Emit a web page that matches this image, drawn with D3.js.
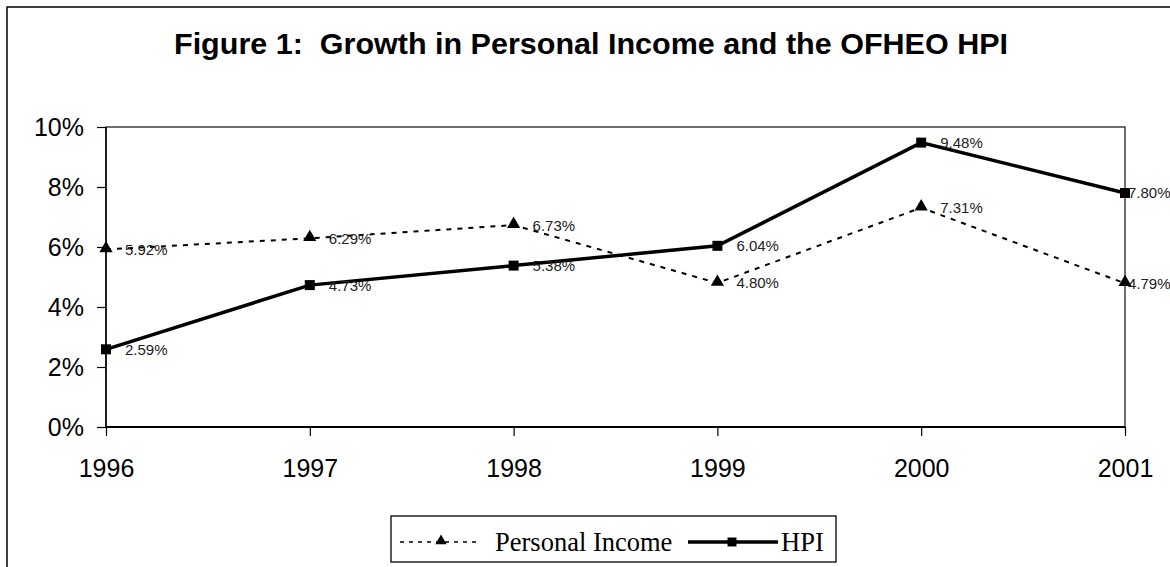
<!DOCTYPE html>
<html>
<head>
<meta charset="utf-8">
<script src="https://cdn.jsdelivr.net/npm/d3@7"></script>
<style>
  body { margin: 0; background: #fff; }
  svg { display: block; }
  .axis text { font-family: "Liberation Sans", Arial, sans-serif; font-size: 25px; fill: #000; }
  .axis line { stroke: #000; stroke-width: 1.2; }
  .lbl { font-family: "Liberation Sans", Arial, sans-serif; font-size: 15px; fill: #222; }
</style>
</head>
<body>
<div id="chart"></div>
<script>
// data
var years = ['1996', '1997', '1998', '1999', '2000', '2001'];
var personalIncome = [5.92, 6.29, 6.73, 4.80, 7.31, 4.79];
var hpi = [2.59, 4.73, 5.38, 6.04, 9.48, 7.80];
var yTicks = [0, 2, 4, 6, 8, 10];
var titleText = 'Figure 1:  Growth in Personal Income and the OFHEO HPI';

var W = 1170, H = 567;
var plot = {left: 106, top: 127, right: 1125, bottom: 427};

var svg = d3.select('#chart').append('svg')
    .attr('width', W)
    .attr('height', H);

// outer chart frame (runs off the right and bottom of the picture)
svg.append('rect')
    .attr('x', 7).attr('y', 7)
    .attr('width', W + 20).attr('height', H + 20)
    .style('fill', 'none')
    .style('stroke', '#000')
    .style('stroke-width', 1.5);

svg.append('text')
    .attr('x', 591)
    .attr('y', 54)
    .attr('text-anchor', 'middle')
    .attr('textLength', 834)
    .attr('lengthAdjust', 'spacingAndGlyphs')
    .style('font-family', '"Liberation Sans", Arial, sans-serif')
    .style('font-weight', 'bold')
    .style('font-size', '30px')
    .style('white-space', 'pre')
    .attr('xml:space', 'preserve')
    .text(titleText);

var x = d3.scalePoint().domain(years).range([plot.left, plot.right]);
var y = d3.scaleLinear().domain([0, 10]).range([plot.bottom, plot.top]);

// plot area border
svg.append('rect')
    .attr('x', plot.left).attr('y', plot.top)
    .attr('width', plot.right - plot.left)
    .attr('height', plot.bottom - plot.top)
    .style('fill', 'none')
    .style('stroke', '#222')
    .style('stroke-width', 1.3);

var yAxis = d3.axisLeft(y)
    .tickValues(yTicks)
    .tickSize(9)
    .tickSizeOuter(0)
    .tickPadding(13)
    .tickFormat(d => d + '%');
var xAxis = d3.axisBottom(x)
    .tickSize(9)
    .tickSizeOuter(0)
    .tickPadding(23);

var gy = svg.append('g').attr('class', 'axis')
    .attr('transform', 'translate(' + plot.left + ',0)')
    .call(yAxis);
gy.select('.domain').remove();

var gx = svg.append('g').attr('class', 'axis')
    .attr('transform', 'translate(0,' + plot.bottom + ')')
    .call(xAxis);
gx.select('.domain').remove();

// heavier axis lines
svg.append('line')
    .attr('x1', plot.left).attr('x2', plot.left)
    .attr('y1', plot.top).attr('y2', plot.bottom)
    .style('stroke', '#000').style('stroke-width', 1.5);
svg.append('line')
    .attr('x1', plot.left).attr('x2', plot.right)
    .attr('y1', plot.bottom).attr('y2', plot.bottom)
    .style('stroke', '#000').style('stroke-width', 1.8);

var piData = years.map((yr, i) => ({year: yr, v: personalIncome[i]}));
var hpiData = years.map((yr, i) => ({year: yr, v: hpi[i]}));

var line = d3.line()
    .x(d => x(d.year))
    .y(d => y(d.v));

svg.append('path')
    .attr('d', line(piData))
    .style('fill', 'none')
    .style('stroke', '#000')
    .style('stroke-width', 2)
    .style('stroke-dasharray', '5,6');

svg.append('path')
    .attr('d', line(hpiData))
    .style('fill', 'none')
    .style('stroke', '#000')
    .style('stroke-width', 3.5);

var tri = d3.symbol().type(d3.symbolTriangle).size(75);
var sq = d3.symbol().type(d3.symbolSquare).size(100);

svg.selectAll('.pi-mark').data(piData).enter().append('path')
    .attr('class', 'pi-mark')
    .attr('d', tri)
    .attr('transform', d => 'translate(' + x(d.year) + ',' + (y(d.v) - 1) + ')')
    .style('fill', '#000');

svg.selectAll('.hpi-mark').data(hpiData).enter().append('path')
    .attr('class', 'hpi-mark')
    .attr('d', sq)
    .attr('transform', d => 'translate(' + x(d.year) + ',' + y(d.v) + ')')
    .style('fill', '#000');

// data labels, to the right of each marker (last ones pushed in against the edge)
var labelOffset = (d, i) => i === years.length - 1 ? 3 : 19;
[piData, hpiData].forEach(series => {
    svg.append('g').selectAll('text').data(series).enter().append('text')
        .attr('class', 'lbl')
        .attr('x', (d, i) => x(d.year) + labelOffset(d, i))
        .attr('y', d => y(d.v))
        .attr('dy', '0.36em')
        .text(d => d.v.toFixed(2) + '%');
});

// legend
var legend = svg.append('g').attr('transform', 'translate(391,516)');
legend.append('rect')
    .attr('width', 445).attr('height', 46)
    .style('fill', '#fff')
    .style('stroke', '#000')
    .style('stroke-width', 1.3);

legend.append('line')
    .attr('x1', 9).attr('x2', 89).attr('y1', 26).attr('y2', 26)
    .style('stroke', '#000').style('stroke-width', 1.5)
    .style('stroke-dasharray', '4,5');
legend.append('path')
    .attr('d', d3.symbol().type(d3.symbolTriangle).size(55))
    .attr('transform', 'translate(50,25)');
legend.append('text')
    .attr('x', 104).attr('y', 35)
    .style('font-family', '"Liberation Serif", "Times New Roman", serif')
    .style('font-size', '26.5px')
    .text('Personal Income');

legend.append('line')
    .attr('x1', 297).attr('x2', 387).attr('y1', 26).attr('y2', 26)
    .style('stroke', '#000').style('stroke-width', 3.5);
legend.append('path')
    .attr('d', d3.symbol().type(d3.symbolSquare).size(80))
    .attr('transform', 'translate(341,26)');
legend.append('text')
    .attr('x', 390).attr('y', 35)
    .style('font-family', '"Liberation Serif", "Times New Roman", serif')
    .style('font-size', '26.5px')
    .text('HPI');
</script>
</body>
</html>
